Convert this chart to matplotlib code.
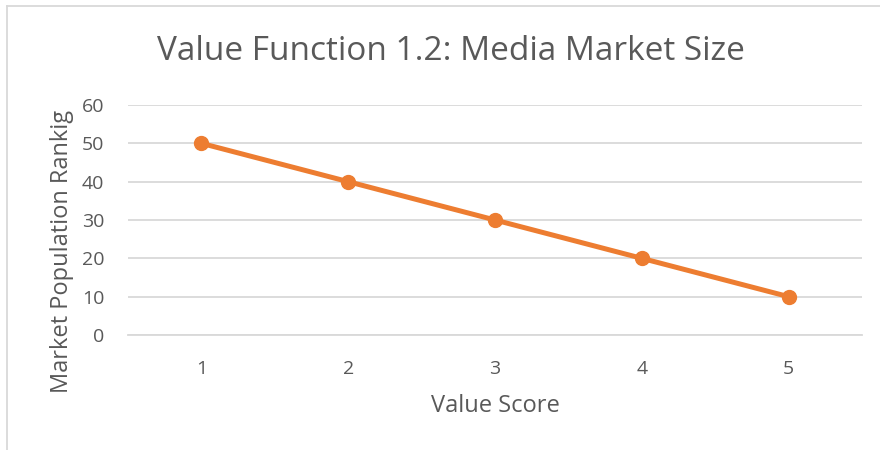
import matplotlib
matplotlib.use("Agg")
from matplotlib import pyplot as plt
from matplotlib.lines import Line2D

# Data
scores = ["1", "2", "3", "4", "5"]
ranking = [50, 40, 30, 20, 10]
yticks = [0, 10, 20, 30, 40, 50, 60]

title = "Value Function 1.2: Media Market Size"
xlabel = "Value Score"
ylabel = "Market Population Rankig"

plt.rcParams['font.family'] = ['Open Sans', 'DejaVu Sans']
text_color = '#595959'
grid_color = '#D9D9D9'
line_color = '#ED7D31'

fig = plt.figure(figsize=(8.8, 4.5), dpi=100)
ax = fig.add_axes([128 / 880, 1 - 335 / 450, (862 - 128) / 880, (335 - 105) / 450])

x = list(range(len(scores)))
ax.plot(x, ranking, color=line_color, linewidth=3.6, marker='o', markersize=10,
        solid_capstyle='round', zorder=3)

ax.set_xlim(-0.5, len(scores) - 0.5)
ax.set_ylim(0, 60)
ax.set_yticks(yticks)
ax.set_xticks(x)
ax.set_xticklabels(scores)

ax.grid(axis='y', color=grid_color, linewidth=1.3)
ax.set_axisbelow(True)
for side in ['top', 'right', 'left']:
    ax.spines[side].set_visible(False)
ax.spines['bottom'].set_color(grid_color)
ax.spines['bottom'].set_linewidth(1.3)
ax.tick_params(length=0, labelsize=14, labelcolor=text_color)
ax.tick_params(axis='x', pad=18)
ax.tick_params(axis='y', pad=17)

ax.set_xlabel(xlabel, fontsize=17, color=text_color)
ax.set_ylabel(ylabel, fontsize=17, color=text_color)
ax.xaxis.set_label_coords(0.5, (335 - 406) / 230)
ax.xaxis.label.set_va('center')
ax.yaxis.set_label_coords((62 - 128) / 734, (335 - 251) / 230)
ax.yaxis.label.set_va('center')

fig.text(0.512, 1 - 52 / 450, title, fontsize=24, color=text_color, ha='center', va='center')

# chart border (only top and left visible in the crop)
fig.add_artist(Line2D([7 / 880, 1], [1 - 6 / 450, 1 - 6 / 450], transform=fig.transFigure,
                      color=grid_color, linewidth=1.3))
fig.add_artist(Line2D([7 / 880, 7 / 880], [0, 1 - 6 / 450], transform=fig.transFigure,
                      color=grid_color, linewidth=1.3))

fig.savefig("out.png", dpi=100, facecolor='white')
